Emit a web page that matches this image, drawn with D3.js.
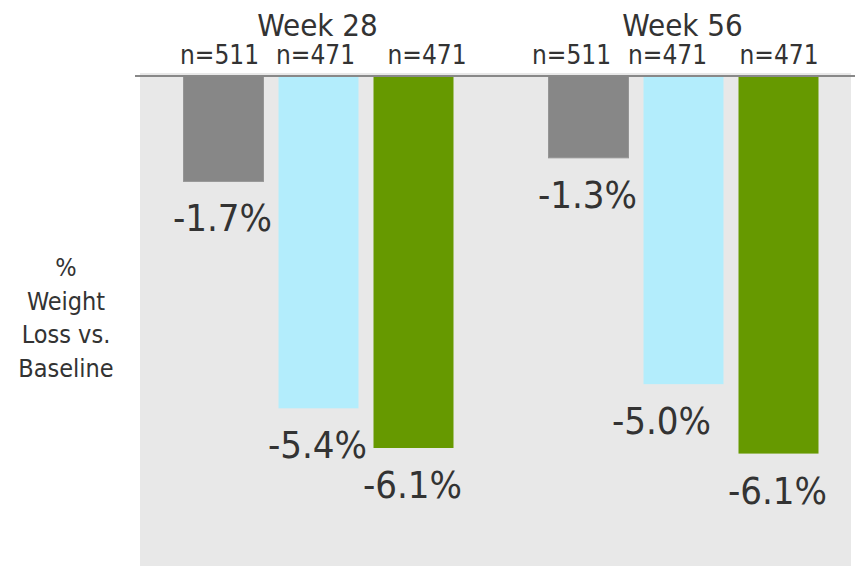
<!DOCTYPE html>
<html>
<head>
<meta charset="utf-8">
<script src="https://cdn.jsdelivr.net/npm/d3@7"></script>
<style>
  html, body { margin: 0; padding: 0; background: #fff; }
  svg { display: block; }
  text { font-family: "DejaVu Sans Condensed", "DejaVu Sans", sans-serif; fill: #333; }
</style>
</head>
<body>
<svg id="chart"></svg>
<script>
// data
const weeks = ["Week 28", "Week 56"];
const series = ["Placebo", "Low dose", "High dose"];
const nCounts = ["n=511", "n=471", "n=471"];
const week28Values = [-1.70, -5.36, -6.00];
const week56Values = [-1.32, -4.97, -6.09];
const week28Labels = ["-1.7%", "-5.4%", "-6.1%"];
const week56Labels = ["-1.3%", "-5.0%", "-6.1%"];
const yAxisLines = ["%", "Weight", "Loss vs.", "Baseline"];

const colors = ["#878787", "#b3edfc", "#669900"];

const width = 855, height = 566;
const svg = d3.select("#chart").attr("width", width).attr("height", height);

const rows = weeks.map((w, i) => ({
    week: w,
    values: i === 0 ? week28Values : week56Values,
    labels: i === 0 ? week28Labels : week56Labels
}));

// scales
const x0 = d3.scaleBand().domain(weeks).range([136, 866]);
const x1 = d3.scaleBand().domain(series).range([-135, 135]).paddingInner(15 / 95).paddingOuter(0);
const y = d3.scaleLinear().domain([0, -7]).range([76, 76 + 7 * 62]);

// panel
svg.append("rect")
    .attr("x", 140).attr("y", 73)
    .attr("width", 711).attr("height", height - 73)
    .attr("fill", "#e8e8e8");

const groups = svg.selectAll("g.week")
    .data(rows)
    .join("g")
    .attr("class", "week")
    .attr("transform", d => `translate(${x0(d.week) + x0.bandwidth() / 2},0)`);

groups.selectAll("rect")
    .data(d => d.values.map((v, i) => ({ key: series[i], v, label: d.labels[i], i })))
    .join("rect")
    .attr("x", d => x1(d.key))
    .attr("y", y(0))
    .attr("width", x1.bandwidth())
    .attr("height", d => y(d.v) - y(0))
    .attr("fill", d => colors[d.i])
    .attr("stroke", d => d.i === 0 ? "#959595" : "none")
    .attr("stroke-width", 1);

// value labels under bars (one sits left of its bar in the original)
const labelNudge = { "Week 56|Low dose": -21 };
groups.selectAll("text.val")
    .data(d => d.values.map((v, i) => ({ key: series[i], v, label: d.labels[i], nudge: labelNudge[d.week + "|" + series[i]] || 0 })))
    .join("text")
    .attr("class", "val")
    .attr("x", d => x1(d.key) + x1.bandwidth() / 2 - 1 + d.nudge)
    .attr("y", d => y(d.v) + 50)
    .attr("text-anchor", "middle")
    .attr("font-size", 38)
    .text(d => d.label);

// week headers
groups.append("text")
    .attr("x", -1)
    .attr("y", 36)
    .attr("text-anchor", "middle")
    .attr("font-size", 31)
    .text(d => d.week);

// n counts (sit a bit off the bar centres in the original)
const weekShift = [-4, -17];
const seriesShift = [0, 1, 17.5];
groups.selectAll("text.n")
    .data((d, wi) => nCounts.map((n, i) => ({ key: series[i], n, shift: weekShift[wi] + seriesShift[i] })))
    .join("text")
    .attr("class", "n")
    .attr("x", d => x1(d.key) + x1.bandwidth() / 2 + d.shift)
    .attr("y", 64)
    .attr("text-anchor", "middle")
    .attr("font-size", 26)
    .text(d => d.n);

// zero line
svg.append("line")
    .attr("x1", 135).attr("x2", 855)
    .attr("y1", y(0)).attr("y2", y(0))
    .attr("stroke", "#888")
    .attr("stroke-width", 2);

// y axis title
svg.append("text")
    .attr("text-anchor", "middle")
    .attr("font-size", 25)
    .selectAll("tspan")
    .data(yAxisLines)
    .join("tspan")
    .attr("x", 66)
    .attr("y", (d, i) => 276 + i * 33.7)
    .text(d => d);
</script>
</body>
</html>
